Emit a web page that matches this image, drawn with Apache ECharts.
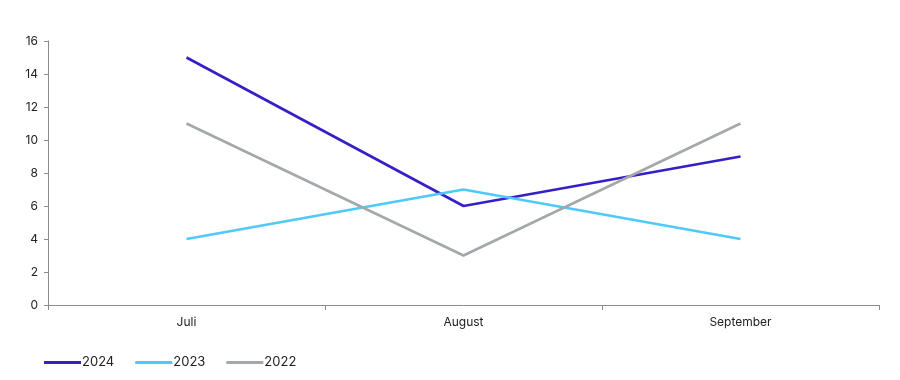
<!DOCTYPE html>
<html><head><meta charset="utf-8">
<script src="https://cdn.jsdelivr.net/npm/echarts@6/dist/echarts.min.js"></script>
<style>html,body{margin:0;padding:0;background:#fff}#c{width:900px;height:380px}</style>
</head><body><div id="c"></div>
<script>
var categories = ['Juli', 'August', 'September'];
var s2024 = [15, 6, 9];
var s2023 = [4, 7, 4];
var s2022 = [11, 3, 11];
var yTicks = {min: 0, max: 16, interval: 2};

var chart = echarts.init(document.getElementById('c'), null, {renderer: 'canvas'});
var font = 'Inter, "Noto Sans", sans-serif';
function mk(name, data, color) {
  return {name: name, type: 'line', data: data, symbol: 'none', smooth: false,
    lineStyle: {color: color, width: 2.6}, itemStyle: {color: color}};
}
chart.setOption({
  animation: false,
  textStyle: {fontFamily: font},
  grid: {left: 48, right: 21, top: 41, bottom: 75},
  legend: {left: 39, top: 351, itemWidth: 37, itemHeight: 3, itemGap: 21,
    icon: 'rect',
    textStyle: {fontFamily: font, fontSize: 13, color: '#222', padding: [0,0,0,-4]},
    data: ['2024', '2023', '2022']},
  xAxis: {type: 'category', data: categories, boundaryGap: true,
    axisLine: {lineStyle: {color: '#8c8c8c', width: 1}},
    axisTick: {show: true, length: 5, lineStyle: {color: '#8c8c8c'}},
    axisLabel: {fontFamily: font, fontSize: 12, color: '#222', margin: 11}},
  yAxis: {type: 'value', min: yTicks.min, max: yTicks.max, interval: yTicks.interval,
    splitLine: {show: false},
    axisLine: {show: true, lineStyle: {color: '#8c8c8c', width: 1}},
    axisTick: {show: true, length: 4, lineStyle: {color: '#8c8c8c'}},
    axisLabel: {fontFamily: font, fontSize: 12, color: '#222', margin: 10}},
  series: [mk('2024', s2024, '#3520c8'), mk('2023', s2023, '#4fc9f8'), mk('2022', s2022, '#a3a8aa')]
});
</script></body></html>
